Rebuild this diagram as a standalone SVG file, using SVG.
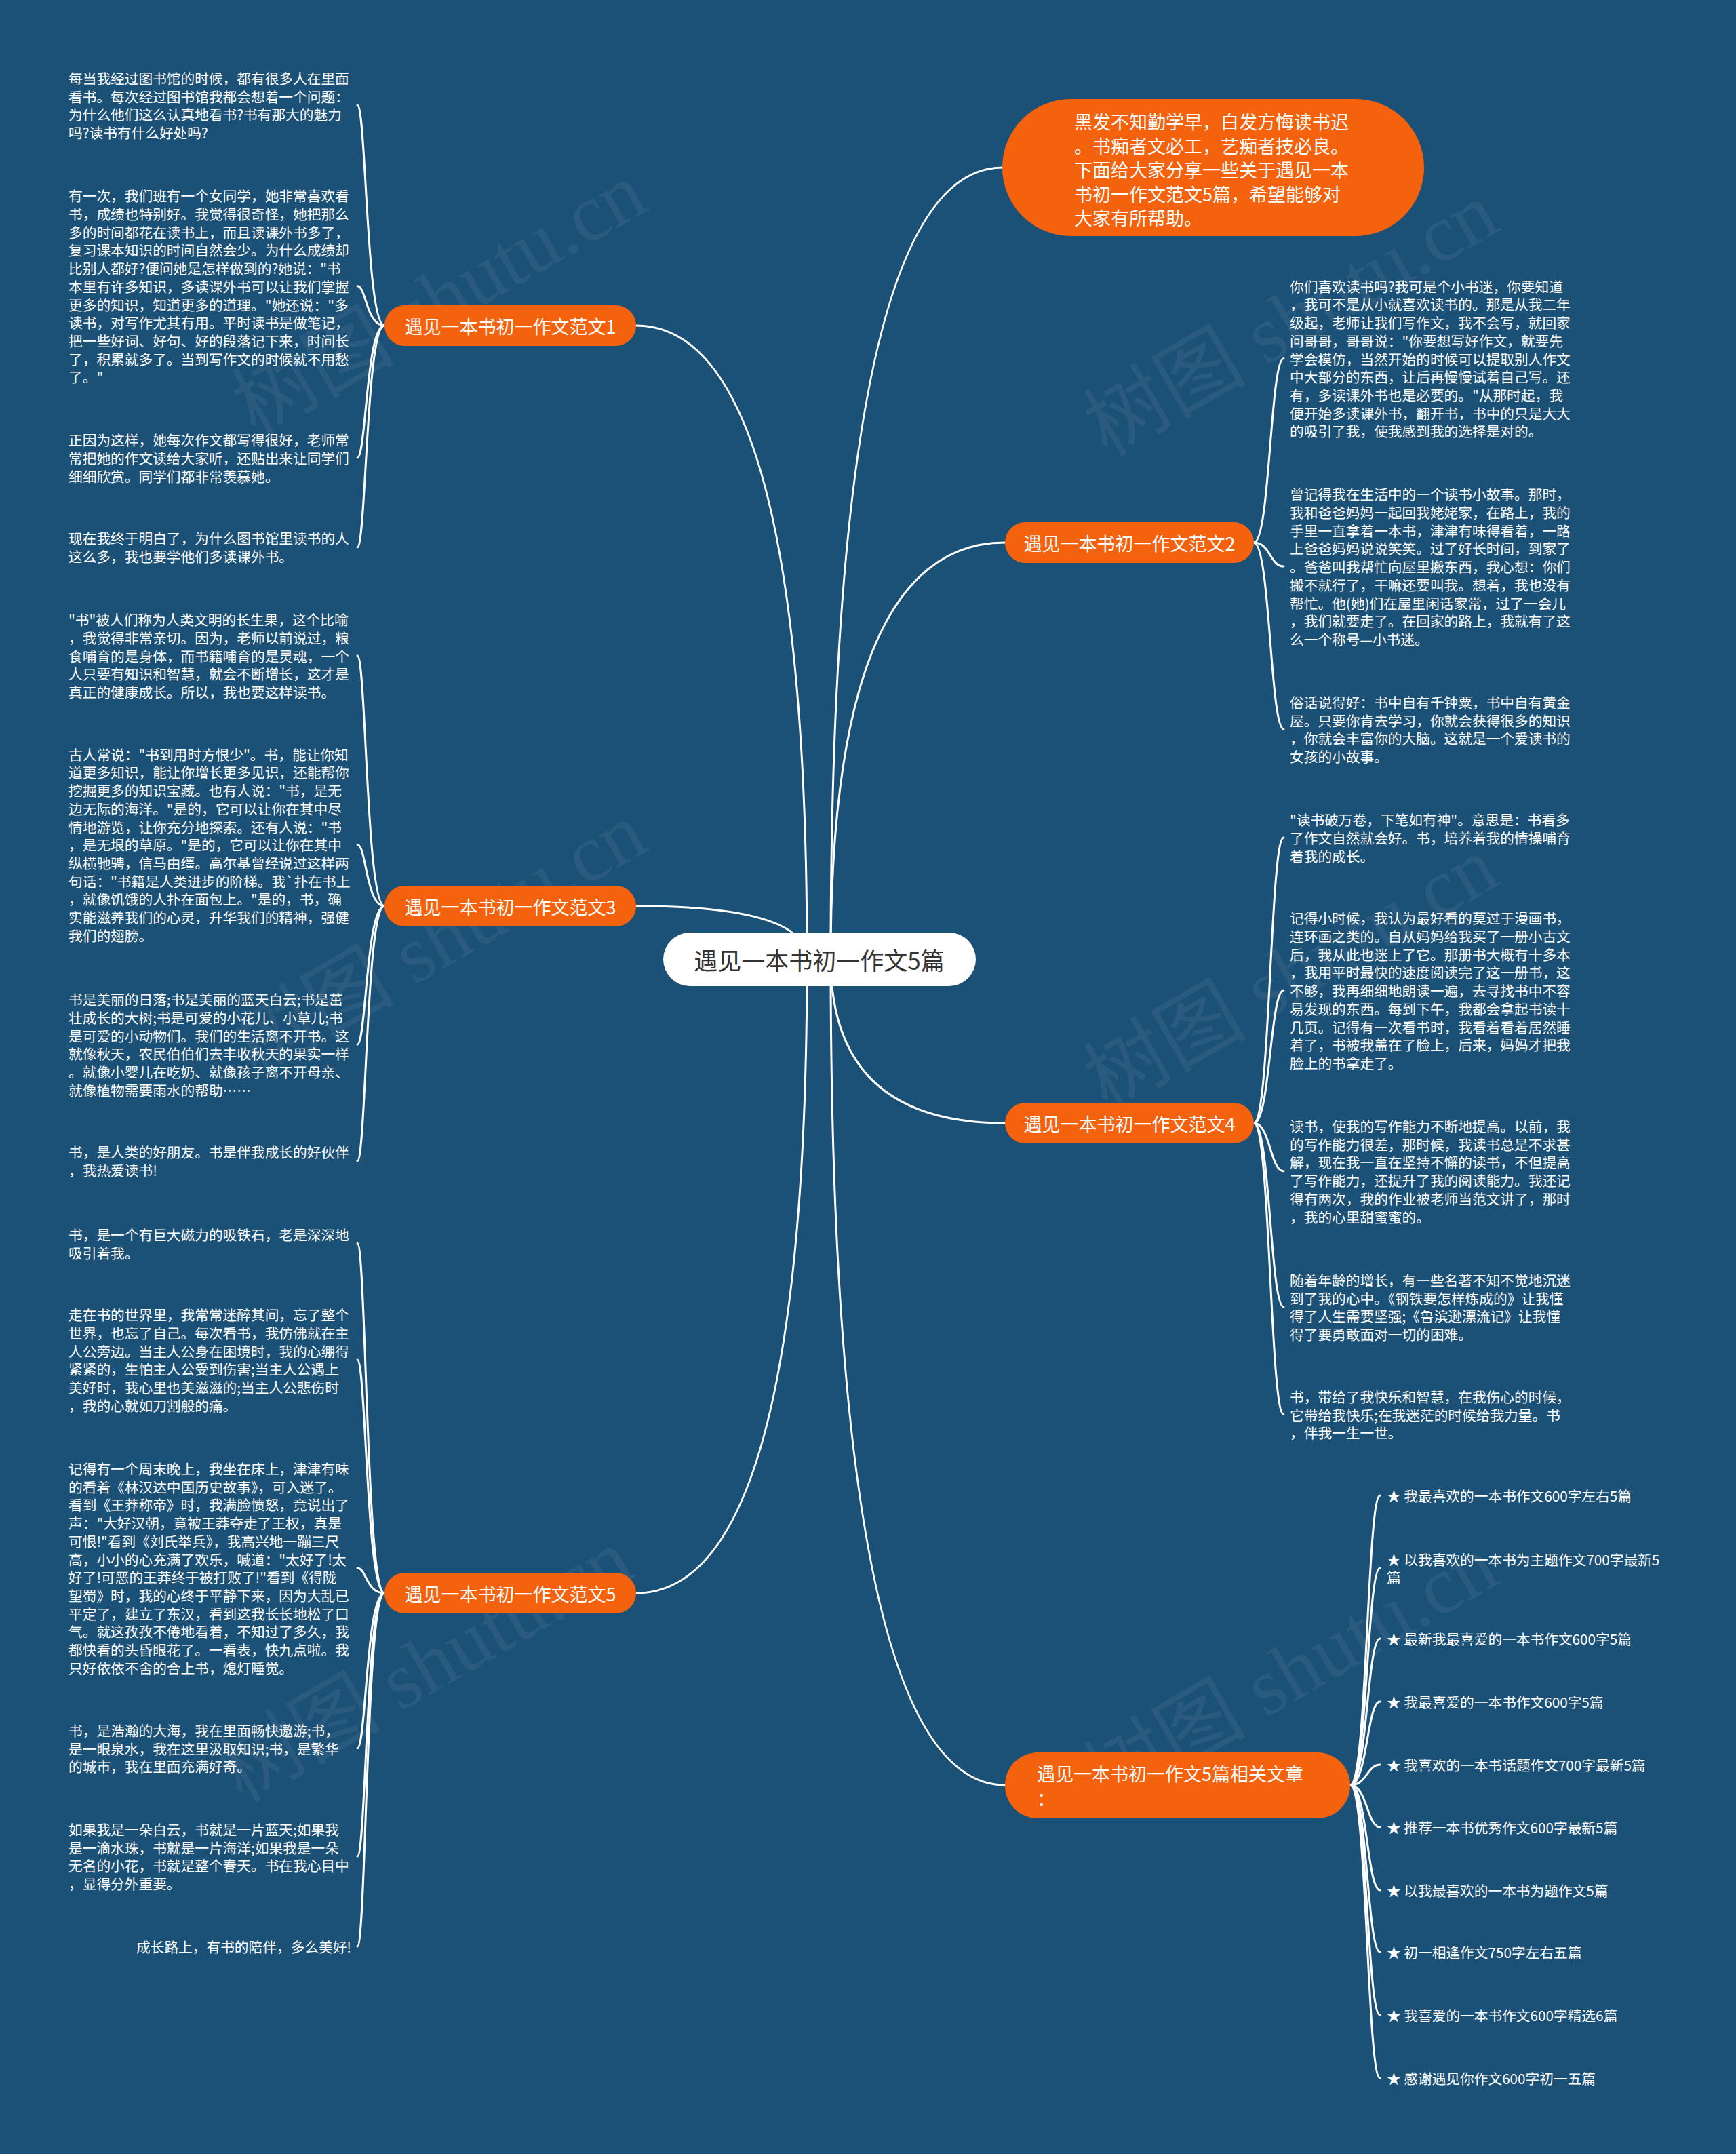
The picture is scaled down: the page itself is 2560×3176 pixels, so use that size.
<svg xmlns="http://www.w3.org/2000/svg" width="2560" height="3176" viewBox="0 0 2560 3176">
<style>
.bg{fill:#1c5177}
.link{fill:none;stroke:#ffffff;stroke-width:3;stroke-linecap:round}
.leaf{font-family:"Noto Sans CJK SC","Noto Sans",sans-serif;font-size:20.7px;fill:#ffffff;dominant-baseline:central}
.pill{fill:#f4620e}
.bt{font-family:"Noto Sans CJK SC","Noto Sans",sans-serif;font-size:27px;fill:#ffffff;dominant-baseline:central}
.rt{font-family:"Noto Sans CJK SC","Noto Sans",sans-serif;font-size:35px;fill:#333333;dominant-baseline:central;text-anchor:middle}
.wm{font-family:"Liberation Serif","Noto Sans CJK SC",serif;font-size:120px;fill:#ffffff;opacity:0.06}
</style>
<rect class="bg" x="0" y="0" width="2560" height="3176"/>
<g id="watermarks">
<text class="wm" transform="translate(668 476) rotate(-30)" text-anchor="middle">树图 shutu.cn</text>
<text class="wm" transform="translate(1924 506) rotate(-30)" text-anchor="middle">树图 shutu.cn</text>
<text class="wm" transform="translate(668 1420) rotate(-30)" text-anchor="middle">树图 shutu.cn</text>
<text class="wm" transform="translate(1924 1470) rotate(-30)" text-anchor="middle">树图 shutu.cn</text>
<text class="wm" transform="translate(648 2491) rotate(-30)" text-anchor="middle">树图 shutu.cn</text>
<text class="wm" transform="translate(1924 2500) rotate(-30)" text-anchor="middle">树图 shutu.cn</text>
</g>
<g id="connectors">
<path class="link" d="M1225 1414 Q1225 247 1478 247"/>
<path class="link" d="M1225 1414 Q1225 800 1482 800"/>
<path class="link" d="M1225 1414 Q1225 1656 1482 1656"/>
<path class="link" d="M1225 1414 Q1225 2632 1482 2632"/>
<path class="link" d="M1190 1414 Q1190 480 938 480"/>
<path class="link" d="M1190 1414 Q1190 1336 938 1336"/>
<path class="link" d="M1190 1414 Q1190 2349 938 2349"/>
<path class="link" d="M567 480 C540 480 540 155 527 155"/>
<path class="link" d="M567 480 C540 480 540 421.8 527 421.8"/>
<path class="link" d="M567 480 C540 480 540 675 527 675"/>
<path class="link" d="M567 480 C540 480 540 806.7 527 806.7"/>
<path class="link" d="M567 1336 C540 1336 540 966.7 527 966.7"/>
<path class="link" d="M567 1336 C540 1336 540 1245.2 527 1245.2"/>
<path class="link" d="M567 1336 C540 1336 540 1540 527 1540"/>
<path class="link" d="M567 1336 C540 1336 540 1711.7 527 1711.7"/>
<path class="link" d="M567 2349 C540 2349 540 1833.3 527 1833.3"/>
<path class="link" d="M567 2349 C540 2349 540 2005 527 2005"/>
<path class="link" d="M567 2349 C540 2349 540 2311.9 527 2311.9"/>
<path class="link" d="M567 2349 C540 2349 540 2577.7 527 2577.7"/>
<path class="link" d="M567 2349 C540 2349 540 2737 527 2737"/>
<path class="link" d="M567 2349 C540 2349 540 2870 527 2870"/>
<path class="link" d="M1849 800 C1873 800 1873 528.5 1893 528.5"/>
<path class="link" d="M1849 800 C1873 800 1873 835.1 1893 835.1"/>
<path class="link" d="M1849 800 C1873 800 1873 1075 1893 1075"/>
<path class="link" d="M1849 1656 C1873 1656 1873 1235 1893 1235"/>
<path class="link" d="M1849 1656 C1873 1656 1873 1460.1 1893 1460.1"/>
<path class="link" d="M1849 1656 C1873 1656 1873 1726.8 1893 1726.8"/>
<path class="link" d="M1849 1656 C1873 1656 1873 1927 1893 1927"/>
<path class="link" d="M1849 1656 C1873 1656 1873 2085.7 1893 2085.7"/>
<path class="link" d="M1991 2632 C2016 2632 2016 2205 2035 2205"/>
<path class="link" d="M1991 2632 C2016 2632 2016 2312 2035 2312"/>
<path class="link" d="M1991 2632 C2016 2632 2016 2416 2035 2416"/>
<path class="link" d="M1991 2632 C2016 2632 2016 2509 2035 2509"/>
<path class="link" d="M1991 2632 C2016 2632 2016 2602 2035 2602"/>
<path class="link" d="M1991 2632 C2016 2632 2016 2694 2035 2694"/>
<path class="link" d="M1991 2632 C2016 2632 2016 2787 2035 2787"/>
<path class="link" d="M1991 2632 C2016 2632 2016 2878 2035 2878"/>
<path class="link" d="M1991 2632 C2016 2632 2016 2971 2035 2971"/>
<path class="link" d="M1991 2632 C2016 2632 2016 3064 2035 3064"/>
</g>
<g id="root">
<rect x="978" y="1375" width="461" height="79" rx="39.5" fill="#ffffff"/>
<text class="rt" x="1208" y="1414.5">遇见一本书初一作文5篇</text>
</g>
<g id="intro">
<rect class="pill" x="1478" y="146" width="622" height="202" rx="101"/>
<text class="bt" x="1584"><tspan x="1584" y="178">黑发不知勤学早，白发方悔读书迟</tspan><tspan x="1584" y="213.5">。书痴者文必工，艺痴者技必良。</tspan><tspan x="1584" y="249">下面给大家分享一些关于遇见一本</tspan><tspan x="1584" y="284.5">书初一作文范文5篇，希望能够对</tspan><tspan x="1584" y="320">大家有所帮助。</tspan></text>
</g>
<g id="b1">
<rect class="pill" x="567" y="450" width="371" height="60" rx="30"/>
<text class="bt" x="752.5" y="480" text-anchor="middle">遇见一本书初一作文范文1</text>
</g>
<g id="b2">
<rect class="pill" x="1482" y="770" width="367" height="60" rx="30"/>
<text class="bt" x="1665.5" y="800" text-anchor="middle">遇见一本书初一作文范文2</text>
</g>
<g id="b3">
<rect class="pill" x="567" y="1306" width="371" height="60" rx="30"/>
<text class="bt" x="752.5" y="1336" text-anchor="middle">遇见一本书初一作文范文3</text>
</g>
<g id="b4">
<rect class="pill" x="1482" y="1626" width="367" height="60" rx="30"/>
<text class="bt" x="1665.5" y="1656" text-anchor="middle">遇见一本书初一作文范文4</text>
</g>
<g id="b5">
<rect class="pill" x="567" y="2319" width="371" height="60" rx="30"/>
<text class="bt" x="752.5" y="2349" text-anchor="middle">遇见一本书初一作文范文5</text>
</g>
<g id="related">
<rect class="pill" x="1482" y="2584" width="509" height="97" rx="48"/>
<text class="bt"><tspan x="1529" y="2614">遇见一本书初一作文5篇相关文章</tspan><tspan x="1529" y="2651">：</tspan></text>
</g>
<g id="leaf-1a"><text class="leaf"><tspan x="101" y="115">每当我经过图书馆的时候，都有很多人在里面</tspan><tspan x="101" y="141.7">看书。每次经过图书馆我都会想着一个问题：</tspan><tspan x="101" y="168.4">为什么他们这么认真地看书?书有那大的魅力</tspan><tspan x="101" y="195.1">吗?读书有什么好处吗?</tspan></text></g>
<g id="leaf-1b"><text class="leaf"><tspan x="101" y="288.3">有一次，我们班有一个女同学，她非常喜欢看</tspan><tspan x="101" y="315">书，成绩也特别好。我觉得很奇怪，她把那么</tspan><tspan x="101" y="341.7">多的时间都花在读书上，而且读课外书多了，</tspan><tspan x="101" y="368.4">复习课本知识的时间自然会少。为什么成绩却</tspan><tspan x="101" y="395.1">比别人都好?便问她是怎样做到的?她说："书</tspan><tspan x="101" y="421.8">本里有许多知识，多读课外书可以让我们掌握</tspan><tspan x="101" y="448.5">更多的知识，知道更多的道理。"她还说："多</tspan><tspan x="101" y="475.2">读书，对写作尤其有用。平时读书是做笔记，</tspan><tspan x="101" y="501.9">把一些好词、好句、好的段落记下来，时间长</tspan><tspan x="101" y="528.6">了，积累就多了。当到写作文的时候就不用愁</tspan><tspan x="101" y="555.3">了。"</tspan></text></g>
<g id="leaf-1c"><text class="leaf"><tspan x="101" y="648.3">正因为这样，她每次作文都写得很好，老师常</tspan><tspan x="101" y="675">常把她的作文读给大家听，还贴出来让同学们</tspan><tspan x="101" y="701.7">细细欣赏。同学们都非常羡慕她。</tspan></text></g>
<g id="leaf-1d"><text class="leaf"><tspan x="101" y="793.3">现在我终于明白了，为什么图书馆里读书的人</tspan><tspan x="101" y="820">这么多，我也要学他们多读课外书。</tspan></text></g>
<g id="leaf-3a"><text class="leaf"><tspan x="101" y="913.3">"书"被人们称为人类文明的长生果，这个比喻</tspan><tspan x="101" y="940">，我觉得非常亲切。因为，老师以前说过，粮</tspan><tspan x="101" y="966.7">食哺育的是身体，而书籍哺育的是灵魂，一个</tspan><tspan x="101" y="993.4">人只要有知识和智慧，就会不断增长，这才是</tspan><tspan x="101" y="1020.1">真正的健康成长。所以，我也要这样读书。</tspan></text></g>
<g id="leaf-3b"><text class="leaf"><tspan x="101" y="1111.7">古人常说："书到用时方恨少"。书，能让你知</tspan><tspan x="101" y="1138.4">道更多知识，能让你增长更多见识，还能帮你</tspan><tspan x="101" y="1165.1">挖掘更多的知识宝藏。也有人说："书，是无</tspan><tspan x="101" y="1191.8">边无际的海洋。"是的，它可以让你在其中尽</tspan><tspan x="101" y="1218.5">情地游览，让你充分地探索。还有人说："书</tspan><tspan x="101" y="1245.2">，是无垠的草原。"是的，它可以让你在其中</tspan><tspan x="101" y="1271.9">纵横驰骋，信马由缰。高尔基曾经说过这样两</tspan><tspan x="101" y="1298.6">句话："书籍是人类进步的阶梯。我`扑在书上</tspan><tspan x="101" y="1325.3">，就像饥饿的人扑在面包上。"是的，书，确</tspan><tspan x="101" y="1352">实能滋养我们的心灵，升华我们的精神，强健</tspan><tspan x="101" y="1378.7">我们的翅膀。</tspan></text></g>
<g id="leaf-3c"><text class="leaf"><tspan x="101" y="1473.3">书是美丽的日落;书是美丽的蓝天白云;书是茁</tspan><tspan x="101" y="1500">壮成长的大树;书是可爱的小花儿、小草儿;书</tspan><tspan x="101" y="1526.7">是可爱的小动物们。我们的生活离不开书。这</tspan><tspan x="101" y="1553.4">就像秋天，农民伯伯们去丰收秋天的果实一样</tspan><tspan x="101" y="1580.1">。就像小婴儿在吃奶、就像孩子离不开母亲、</tspan><tspan x="101" y="1606.8">就像植物需要雨水的帮助……</tspan></text></g>
<g id="leaf-3d"><text class="leaf"><tspan x="101" y="1698.3">书，是人类的好朋友。书是伴我成长的好伙伴</tspan><tspan x="101" y="1725">，我热爱读书!</tspan></text></g>
<g id="leaf-5a"><text class="leaf"><tspan x="101" y="1820">书，是一个有巨大磁力的吸铁石，老是深深地</tspan><tspan x="101" y="1846.7">吸引着我。</tspan></text></g>
<g id="leaf-5b"><text class="leaf"><tspan x="101" y="1938.3">走在书的世界里，我常常迷醉其间，忘了整个</tspan><tspan x="101" y="1965">世界，也忘了自己。每次看书，我仿佛就在主</tspan><tspan x="101" y="1991.7">人公旁边。当主人公身在困境时，我的心绷得</tspan><tspan x="101" y="2018.4">紧紧的，生怕主人公受到伤害;当主人公遇上</tspan><tspan x="101" y="2045.1">美好时，我心里也美滋滋的;当主人公悲伤时</tspan><tspan x="101" y="2071.8">，我的心就如刀割般的痛。</tspan></text></g>
<g id="leaf-5c"><text class="leaf"><tspan x="101" y="2165">记得有一个周末晚上，我坐在床上，津津有味</tspan><tspan x="101" y="2191.7">的看着《林汉达中国历史故事》，可入迷了。</tspan><tspan x="101" y="2218.4">看到《王莽称帝》时，我满脸愤怒，竟说出了</tspan><tspan x="101" y="2245.1">声："大好汉朝，竟被王莽夺走了王权，真是</tspan><tspan x="101" y="2271.8">可恨!"看到《刘氏举兵》，我高兴地一蹦三尺</tspan><tspan x="101" y="2298.5">高，小小的心充满了欢乐，喊道："太好了!太</tspan><tspan x="101" y="2325.2">好了!可恶的王莽终于被打败了!"看到《得陇</tspan><tspan x="101" y="2351.9">望蜀》时，我的心终于平静下来，因为大乱已</tspan><tspan x="101" y="2378.6">平定了，建立了东汉，看到这我长长地松了口</tspan><tspan x="101" y="2405.3">气。就这孜孜不倦地看着，不知过了多久，我</tspan><tspan x="101" y="2432">都快看的头昏眼花了。一看表，快九点啦。我</tspan><tspan x="101" y="2458.7">只好依依不舍的合上书，熄灯睡觉。</tspan></text></g>
<g id="leaf-5d"><text class="leaf"><tspan x="101" y="2551">书，是浩瀚的大海，我在里面畅快遨游;书，</tspan><tspan x="101" y="2577.7">是一眼泉水，我在这里汲取知识;书，是繁华</tspan><tspan x="101" y="2604.4">的城市，我在里面充满好奇。</tspan></text></g>
<g id="leaf-5e"><text class="leaf"><tspan x="101" y="2697">如果我是一朵白云，书就是一片蓝天;如果我</tspan><tspan x="101" y="2723.7">是一滴水珠，书就是一片海洋;如果我是一朵</tspan><tspan x="101" y="2750.4">无名的小花，书就是整个春天。书在我心目中</tspan><tspan x="101" y="2777.1">，显得分外重要。</tspan></text></g>
<g id="leaf-5f"><text class="leaf" x="518" y="2870" text-anchor="end">成长路上，有书的陪伴，多么美好!</text></g>
<g id="leaf-2a"><text class="leaf"><tspan x="1902" y="421.7">你们喜欢读书吗?我可是个小书迷，你要知道</tspan><tspan x="1902" y="448.4">，我可不是从小就喜欢读书的。那是从我二年</tspan><tspan x="1902" y="475.1">级起，老师让我们写作文，我不会写，就回家</tspan><tspan x="1902" y="501.8">问哥哥，哥哥说："你要想写好作文，就要先</tspan><tspan x="1902" y="528.5">学会模仿，当然开始的时候可以提取别人作文</tspan><tspan x="1902" y="555.2">中大部分的东西，让后再慢慢试着自己写。还</tspan><tspan x="1902" y="581.9">有，多读课外书也是必要的。"从那时起，我</tspan><tspan x="1902" y="608.6">便开始多读课外书，翻开书，书中的只是大大</tspan><tspan x="1902" y="635.3">的吸引了我，使我感到我的选择是对的。</tspan></text></g>
<g id="leaf-2b"><text class="leaf"><tspan x="1902" y="728.3">曾记得我在生活中的一个读书小故事。那时，</tspan><tspan x="1902" y="755">我和爸爸妈妈一起回我姥姥家，在路上，我的</tspan><tspan x="1902" y="781.7">手里一直拿着一本书，津津有味得看着，一路</tspan><tspan x="1902" y="808.4">上爸爸妈妈说说笑笑。过了好长时间，到家了</tspan><tspan x="1902" y="835.1">。爸爸叫我帮忙向屋里搬东西，我心想：你们</tspan><tspan x="1902" y="861.8">搬不就行了，干嘛还要叫我。想着，我也没有</tspan><tspan x="1902" y="888.5">帮忙。他(她)们在屋里闲话家常，过了一会儿</tspan><tspan x="1902" y="915.2">，我们就要走了。在回家的路上，我就有了这</tspan><tspan x="1902" y="941.9">么一个称号—小书迷。</tspan></text></g>
<g id="leaf-2c"><text class="leaf"><tspan x="1902" y="1035">俗话说得好：书中自有千钟粟，书中自有黄金</tspan><tspan x="1902" y="1061.7">屋。只要你肯去学习，你就会获得很多的知识</tspan><tspan x="1902" y="1088.4">，你就会丰富你的大脑。这就是一个爱读书的</tspan><tspan x="1902" y="1115.1">女孩的小故事。</tspan></text></g>
<g id="leaf-4a"><text class="leaf"><tspan x="1902" y="1208.3">"读书破万卷，下笔如有神"。意思是：书看多</tspan><tspan x="1902" y="1235">了作文自然就会好。书，培养着我的情操哺育</tspan><tspan x="1902" y="1261.7">着我的成长。</tspan></text></g>
<g id="leaf-4b"><text class="leaf"><tspan x="1902" y="1353.3">记得小时候，我认为最好看的莫过于漫画书，</tspan><tspan x="1902" y="1380">连环画之类的。自从妈妈给我买了一册小古文</tspan><tspan x="1902" y="1406.7">后，我从此也迷上了它。那册书大概有十多本</tspan><tspan x="1902" y="1433.4">，我用平时最快的速度阅读完了这一册书，这</tspan><tspan x="1902" y="1460.1">不够，我再细细地朗读一遍，去寻找书中不容</tspan><tspan x="1902" y="1486.8">易发现的东西。每到下午，我都会拿起书读十</tspan><tspan x="1902" y="1513.5">几页。记得有一次看书时，我看着看着居然睡</tspan><tspan x="1902" y="1540.2">着了，书被我盖在了脸上，后来，妈妈才把我</tspan><tspan x="1902" y="1566.9">脸上的书拿走了。</tspan></text></g>
<g id="leaf-4c"><text class="leaf"><tspan x="1902" y="1660">读书，使我的写作能力不断地提高。以前，我</tspan><tspan x="1902" y="1686.7">的写作能力很差，那时候，我读书总是不求甚</tspan><tspan x="1902" y="1713.4">解，现在我一直在坚持不懈的读书，不但提高</tspan><tspan x="1902" y="1740.1">了写作能力，还提升了我的阅读能力。我还记</tspan><tspan x="1902" y="1766.8">得有两次，我的作业被老师当范文讲了，那时</tspan><tspan x="1902" y="1793.5">，我的心里甜蜜蜜的。</tspan></text></g>
<g id="leaf-4d"><text class="leaf"><tspan x="1902" y="1887">随着年龄的增长，有一些名著不知不觉地沉迷</tspan><tspan x="1902" y="1913.7">到了我的心中。《钢铁要怎样炼成的》让我懂</tspan><tspan x="1902" y="1940.4">得了人生需要坚强;《鲁滨逊漂流记》让我懂</tspan><tspan x="1902" y="1967.1">得了要勇敢面对一切的困难。</tspan></text></g>
<g id="leaf-4e"><text class="leaf"><tspan x="1902" y="2059">书，带给了我快乐和智慧，在我伤心的时候，</tspan><tspan x="1902" y="2085.7">它带给我快乐;在我迷茫的时候给我力量。书</tspan><tspan x="1902" y="2112.4">，伴我一生一世。</tspan></text></g>
<g id="rel-items">
<text class="leaf" x="2045" y="2205">★ 我最喜欢的一本书作文600字左右5篇</text>
<text class="leaf"><tspan x="2045" y="2299">★ 以我喜欢的一本书为主题作文700字最新5</tspan><tspan x="2045" y="2325">篇</tspan></text>
<text class="leaf" x="2045" y="2416">★ 最新我最喜爱的一本书作文600字5篇</text>
<text class="leaf" x="2045" y="2509">★ 我最喜爱的一本书作文600字5篇</text>
<text class="leaf" x="2045" y="2602">★ 我喜欢的一本书话题作文700字最新5篇</text>
<text class="leaf" x="2045" y="2694">★ 推荐一本书优秀作文600字最新5篇</text>
<text class="leaf" x="2045" y="2787">★ 以我最喜欢的一本书为题作文5篇</text>
<text class="leaf" x="2045" y="2878">★ 初一相逢作文750字左右五篇</text>
<text class="leaf" x="2045" y="2971">★ 我喜爱的一本书作文600字精选6篇</text>
<text class="leaf" x="2045" y="3064">★ 感谢遇见你作文600字初一五篇</text>
</g>
</svg>
